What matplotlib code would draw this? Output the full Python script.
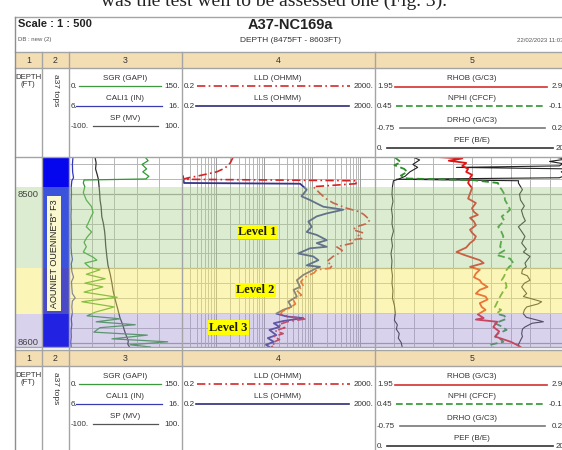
import matplotlib.pyplot as plt
from matplotlib.patches import Rectangle

# ==========================
# Log data (depth in FT)
# ==========================

W, H = 562, 450
TOP, BASE = 8475, 8603

sgr_depth = [8475, 8477.5, 8480, 8483, 8485, 8488, 8489.8, 8490.5, 8492.5, 8495, 8499, 8504,
             8508.5, 8512.5, 8515.5, 8519, 8522, 8525.5, 8529, 8532.5, 8535.5, 8539, 8542.5,
             8544.5, 8546.5, 8549.5, 8551, 8554, 8557, 8560, 8562.5, 8566, 8569.5, 8572.5, 8576,
             8579.5, 8582, 8584, 8586, 8588, 8590, 8593, 8595, 8597.5, 8599.5, 8601.5, 8603]
sgr = [101, 105, 97, 103, 98, 106, 102, 20, 19, 21, 19, 23, 30, 32, 29, 26, 23, 30, 24, 20, 23,
       19, 32, 37, 21, 28, 41, 23, 48, 21, 45, 20, 64, 17, 60, 35, 24, 68, 36, 88, 41, 33, 104,
       57, 131, 81, 108]

cali_depth = [8475, 8480, 8485, 8489, 8491, 8495, 8500, 8505, 8510, 8515, 8520, 8525, 8530, 8535,
              8540, 8544, 8547, 8552, 8556, 8559, 8563, 8567, 8570, 8572, 8576, 8580, 8584, 8588,
              8592, 8596, 8600, 8603]
cali = [6.35, 6.3, 6.32, 6.4, 6.25, 6.2, 6.22, 6.18, 6.2, 6.17, 6.2, 6.19, 6.2, 6.18, 6.22, 6.3,
        6.2, 6.25, 6.4, 6.22, 6.25, 6.3, 6.55, 6.3, 6.25, 6.3, 6.2, 6.25, 6.18, 6.2, 6.15, 6.2]

sp_depth = [8475, 8479, 8483, 8487, 8490, 8494, 8498, 8504, 8509, 8515, 8520, 8525, 8529, 8535,
            8542, 8548, 8554, 8560, 8565, 8570, 8577, 8583, 8588, 8593, 8596, 8599, 8601, 8603]
sp = [-54, -52, -53, -50, -48, -47, -46, -45, -43, -42, -39, -37, -36, -35, -33, -31, -27, -24,
      -22, -19, -14, -10, -5, -1, 2, 5, 4, 7]

lld_depth = [8475, 8479, 8482.5, 8485, 8486.5, 8488, 8489, 8490, 8491, 8493, 8495, 8499.5, 8503,
             8506, 8509.5, 8512, 8514, 8517.5, 8520, 8522, 8524, 8526, 8528, 8530, 8531, 8533,
             8535.5, 8538, 8540, 8542, 8545.5, 8548, 8550, 8551, 8553, 8556, 8559, 8562, 8565,
             8568, 8571, 8574, 8577, 8579, 8581, 8583, 8584, 8586, 8588, 8590, 8592, 8594, 8596,
             8598, 8600, 8602, 8603]
lld = [2.3, 2.0, 1.55, 1.05, 0.65, 0.4, 0.27, 0.21, 850, 800, 105, 145, 190, 273, 518, 977, 1200,
       1570, 1300, 830, 700, 1100, 900, 1060, 610, 700, 320, 420, 350, 270, 200, 260, 233, 124,
       110, 70, 58, 66, 48, 60, 40, 45, 33, 24, 22, 40, 75, 30, 20, 27, 17, 25, 16, 21, 15, 17, 14]

lls_depth = [8488, 8492.5, 8493, 8497, 8501.5, 8504, 8508.5, 8510.5, 8513, 8515, 8518.5, 8522,
             8525.5, 8527.5, 8531, 8533, 8535.5, 8536.5, 8540, 8542, 8544.5, 8548, 8549, 8551,
             8554.5, 8558, 8562.5, 8564.5, 8569, 8572.5, 8576, 8578, 8580.5, 8582.5, 8583.5,
             8585.5, 8587, 8589.5, 8591.5, 8595, 8597, 8599.5, 8601.5, 8603]
lls = [0.21, 0.22, 56, 77, 60, 90, 170, 440, 200, 124, 83, 97, 77, 124, 200, 124, 200, 90, 51,
       105, 134, 77, 145, 105, 65, 48, 56, 41, 48, 32, 37, 25, 18, 30, 65, 25, 16, 21, 13, 18, 12,
       16, 11, 13]

rhob_depth = [8475, 8476, 8477.5, 8479, 8481, 8483, 8485, 8487, 8489, 8492.5, 8496, 8499.5, 8503,
              8506, 8509.5, 8512, 8514, 8516, 8518.5, 8521, 8524, 8526, 8528.5, 8531, 8533, 8536,
              8539, 8541, 8544.5, 8546.5, 8549, 8551, 8553.5, 8556, 8558, 8560, 8562.5, 8564.5,
              8567, 8569, 8571, 8573.5, 8576, 8578, 8581, 8583.5, 8584.5, 8586, 8589.5, 8592.5,
              8596, 8599.5, 8601.5, 8603]
rhob = [2.27, 2.40, 2.33, 2.42, 2.40, 2.43, 2.42, 2.45, 2.44, 2.43, 2.45, 2.44, 2.43, 2.47, 2.45,
        2.46, 2.48, 2.44, 2.46, 2.47, 2.44, 2.45, 2.47, 2.46, 2.44, 2.42, 2.37, 2.41, 2.49, 2.51,
        2.44, 2.49, 2.47, 2.46, 2.49, 2.50, 2.53, 2.49, 2.47, 2.52, 2.53, 2.49, 2.50, 2.52, 2.48,
        2.51, 2.47, 2.58, 2.56, 2.59, 2.57, 2.65, 2.68, 2.70]

nphi_depth = [8475, 8478.5, 8480.5, 8483, 8485, 8487.5, 8489.5, 8490.5, 8492.5, 8495, 8497, 8500,
              8504, 8507, 8510.5, 8513, 8515, 8518, 8522, 8525, 8528.5, 8532, 8535.5, 8538, 8541,
              8543.5, 8546.5, 8549, 8551, 8555, 8558, 8560, 8562.5, 8566, 8569, 8572, 8576, 8578,
              8580.5, 8582, 8584, 8587, 8589, 8591.5, 8594, 8596, 8598, 8599.5, 8601.5, 8603]
nphi = [0.39, 0.37, 0.39, 0.36, 0.35, 0.37, 0.35, 0.15, 0.07, 0.065, 0.058, 0.05, 0.048, 0.04,
        0.032, 0.045, 0.058, 0.05, 0.069, 0.06, 0.053, 0.06, 0.063, 0.05, 0.074, 0.032, 0.022,
        0.035, 0.043, 0.05, 0.058, 0.045, 0.043, 0.055, 0.063, 0.07, 0.079, 0.06, 0.074, 0.05,
        0.043, 0.079, 0.06, 0.043, 0.07, 0.079, 0.06, 0.053, 0.094, 0.085]

drho_depth = [8475, 8476.5, 8478, 8479.5, 8481, 8482, 8483, 8485, 8487, 8489, 8490, 8491, 8492.5,
              8497, 8500, 8504, 8508, 8511, 8515, 8518, 8522, 8525, 8528.5, 8533, 8537, 8539,
              8542, 8546.5, 8549, 8551, 8553.5, 8555, 8558, 8560, 8562.5, 8567, 8569, 8571,
              8572.5, 8574, 8576, 8578, 8580.5, 8583, 8585, 8586, 8587, 8589.5, 8591, 8594, 8596,
              8598.5, 8601.5, 8603]
drho = [0.18, 0.23, 0.15, 0.22, 0.2, -0.33, 0.25, 0.21, 0.24, 0.2, -0.64, -0.01, -0.011, 0.01,
        -0.005, 0.0, 0.02, 0.005, 0.014, 0.025, -0.011, 0.005, 0.023, 0.006, 0.03, 0.015, 0.049,
        0.023, 0.03, 0.01, 0.006, 0.035, 0.049, 0.02, 0.006, 0.032, 0.015, 0.07, 0.109, 0.09,
        0.032, 0.02, 0.014, 0.03, 0.09, 0.118, 0.06, 0.023, 0.01, 0.006, 0.01, 0.0, -0.011, -0.005]

pef_depth = [8475, 8477, 8480, 8482, 8485, 8488, 8490, 8491, 8495, 8500, 8505, 8510, 8515, 8520,
             8525, 8530, 8535, 8540, 8545, 8550, 8555, 8560, 8565, 8570, 8575, 8580, 8585, 8588,
             8591, 8594, 8597, 8600, 8603]
pef = [3.9, 4.6, 3.9, 4.4, 3.6, 3.1, 2.4, 1.9, 1.8, 1.75, 1.85, 1.7, 1.8, 1.75, 1.9, 1.7, 1.8,
       1.65, 1.75, 1.7, 1.8, 1.75, 1.85, 1.8, 2.0, 2.1, 2.0, 2.3, 2.2, 2.5, 2.4, 2.7, 2.8]

# Reservoir levels
zone_top = [8495, 8550, 8581]
zone_base = [8550, 8581, 8603]
zone_color = ["#a8d08a", "#f8ec60", "#9f8fd0"]
zone_alpha = [0.4, 0.45, 0.4]
zone_label = ["Level 1", "Level 2", "Level 3"]
label_depth = [8525.5, 8564.5, 8590]
label_pos = [0.39, 0.38, 0.24]
tops_color = ["#0606ee", "#3a52dc", "#4a4ac6", "#2222e2"]

depth_labels = [8500, 8600]

# ==========================
# Layout (pixels)
# ==========================

TRACKS = {1: (15, 42), 2: (42, 69), 3: (69, 182), 4: (182, 375), 5: (375, 569)}
Y0, Y1 = 157, 347
GRID = "#b6b6b6"
FRAME = "#a4a4a4"
HFONT = "Liberation Sans"

fig = plt.figure(figsize=(W / 100, H / 100), dpi=100)


def px_axes(x0, x1, y0=Y0, y1=Y1, z=1):
    ax = fig.add_axes([x0 / W, 1 - y1 / H, (x1 - x0) / W, (y1 - y0) / H], zorder=z)
    ax.set_ylim(BASE, TOP)
    ax.axis("off")
    return ax


grid_depths = list(range(8480, 8601, 10))

# grids for tracks 3-5
for t, ndiv in [(3, 5), (4, None), (5, 10)]:
    g = px_axes(*TRACKS[t], z=1)
    for d in grid_depths:
        strong = d % 50 == 0
        g.axhline(d, color="#9c9c9c" if strong else GRID, lw=0.9 if strong else 0.7)
    if ndiv:
        g.set_xlim(0, ndiv)
        for k in range(1, ndiv):
            g.axvline(k, color=GRID, lw=0.7)
    else:
        g.set_xscale("log")
        g.set_xlim(0.2, 2000)
        for n in range(-1, 4):
            for k in range(1, 10):
                v = k * 10.0 ** n
                if 0.2 < v < 2000:
                    g.axvline(v, color="#9c9c9c" if k == 1 else GRID, lw=0.7)


def curve_axes(track, lo, hi, log=False):
    ax = px_axes(*TRACKS[track], z=2)
    if log:
        ax.set_xscale("log")
    ax.set_xlim(lo, hi)
    return ax


# Track 3
curve_axes(3, 6, 16).plot(cali, cali_depth, color="#3434c0", lw=0.9)
curve_axes(3, -100, 100).plot(sp, sp_depth, color="#2e2e2e", lw=0.9)
curve_axes(3, 0, 150).plot(sgr, sgr_depth, color="#2f9a2f", lw=0.9)

# Track 4
curve_axes(4, 0.2, 2000, log=True).plot(lls, lls_depth, color="#34348c", lw=1.3)
curve_axes(4, 0.2, 2000, log=True).plot(lld, lld_depth, color="#d62222", lw=1.2,
                                        ls=(0, (5, 2, 1, 2)))

# Track 5
curve_axes(5, 0, 20).plot(pef, pef_depth, color="#222222", lw=0.8)
curve_axes(5, -0.75, 0.25).plot(drho, drho_depth, color="#222222", lw=0.8)
curve_axes(5, 0.45, -0.15).plot(nphi, nphi_depth, color="#2a8f2a", lw=1.3, ls=(0, (4, 2)))
curve_axes(5, 1.95, 2.95).plot(rhob, rhob_depth, color="#e01414", lw=1.3)

# Zone shading over all tracks
bands = px_axes(15, 600, z=3)
for top, base, c, a in zip(zone_top, zone_base, zone_color, zone_alpha):
    bands.axhspan(top, base, color=c, alpha=a, lw=0)

# Tops column
tops = px_axes(*TRACKS[2], z=4)
tops.set_xlim(0, 1)
tops.axhspan(TOP, zone_top[0], color=tops_color[0], lw=0)
for top, base, c in zip(zone_top, zone_base, tops_color[1:]):
    tops.axhspan(top, base, color=c, lw=0)
tops.text(0.45, (TOP + BASE) / 2 + 1, 'AOUNIET OUENINE"B" F3', rotation=90, ha="center",
          va="center", fontsize=6.5, family=HFONT, color="#222",
          bbox=dict(boxstyle="square,pad=0.3", fc="#fbf8cf", ec="none"))

# Depth column
dep = px_axes(*TRACKS[1], z=4)
dep.set_xlim(0, 1)
for d in depth_labels:
    dep.text(0.08, d, str(d), ha="left", va="center", fontsize=6.8, family=HFONT, color="#444")

# Level labels
lev = px_axes(*TRACKS[4], z=6)
lev.set_xlim(0, 1)
for x, d, name in zip(label_pos, label_depth, zone_label):
    lev.text(x, d, name, ha="center", va="center", fontsize=9, family="Liberation Serif",
             weight="bold", color="#1a1a1a",
             bbox=dict(boxstyle="square,pad=0.1", fc="#ffff00", ec="none"))

# ==========================
# Frame and headers
# ==========================

fr = fig.add_axes([0, 0, 1, 1], zorder=8)
fr.set_xlim(0, W)
fr.set_ylim(H, 0)
fr.axis("off")

HEADER = [
    # label, left, right, track, line y, colour, style, x0, x1
    ("SGR (GAPI)", "0.", "150.", 3, 34, "#3c9a3c", "-", 79, 161),
    ("CALI1 (IN)", "6.", "16.", 3, 54, "#3a3ab0", "-", 76, 162),
    ("SP (MV)", "-100.", "100.", 3, 74, "#555555", "-", 93, 158),
    ("LLD (OHMM)", "0.2", "2000.", 4, 34, "#d42a2a", (0, (5, 2, 1, 2)), 197, 350),
    ("LLS (OHMM)", "0.2", "2000.", 4, 54, "#2c2c78", "-", 196, 349),
    ("RHOB (G/C3)", "1.95", "2.95", 5, 35, "#d43030", "-", 395, 547),
    ("NPHI (CFCF)", "0.45", "-0.15", 5, 54, "#2f962f", (0, (4, 2)), 396, 543),
    ("DRHO (G/C3)", "-0.75", "0.25", 5, 76, "#777777", "-", 400, 545),
    ("PEF (B/E)", "0.", "20.", 5, 96, "#333333", "-", 387, 553),
]
LABEL_X = {3: 125, 4: 278, 5: 472}


def draw_header(y0):
    fr.add_patch(Rectangle((15, y0), W - 15, 16, facecolor="#f3ddb3", edgecolor="none"))
    for num, (a, b) in TRACKS.items():
        fr.text((a + b) / 2, y0 + 8.5, str(num), ha="center", va="center", fontsize=6.3,
                family=HFONT, color="#333")
    fr.text(28, y0 + 29, "DEPTH\n(FT)", ha="center", va="center", fontsize=5.6, family=HFONT,
            color="#333", linespacing=0.95)
    fr.text(55, y0 + 22, "a37 tops", rotation=-90, ha="center", va="top", fontsize=6,
            family=HFONT, color="#333")
    for label, left, right, t, ly, c, ls, x0, x1 in HEADER:
        a, b = TRACKS[t]
        fr.plot([x0, x1], [y0 + ly, y0 + ly], color=c, ls=ls, lw=1.2 if t > 3 else 0.9)
        fr.text(LABEL_X[t], y0 + ly - 8, label, ha="center", va="center", fontsize=5.8,
                family=HFONT, color="#333")
        fr.text(a + 2, y0 + ly, left, ha="left", va="center", fontsize=5.8, family=HFONT,
                color="#333")
        # the right-hand scale values of track 5 run past the page edge
        fr.text(min(b - 2, 567), y0 + ly, right, ha="right", va="center", fontsize=5.8,
                family=HFONT, color="#333")


draw_header(52)
draw_header(350)

# frame lines
for y in [17, 52, 68, Y0, Y1, 350, 366]:
    fr.plot([15, W], [y, y], color=FRAME, lw=1.0)
fr.plot([15, 15], [17, H], color="#8e8e8e", lw=1.0)
for x in [42, 69, 182, 375]:
    fr.plot([x, x], [52, H], color=FRAME, lw=1.0)

# title block
fr.text(18, 24, "Scale : 1 : 500", ha="left", va="center", fontsize=8, weight="bold",
        family=HFONT, color="#222")
fr.text(18, 40, "DB : new (2)", ha="left", va="center", fontsize=4.3, family=HFONT, color="#555")
fr.text(290, 25, "A37-NC169a", ha="center", va="center", fontsize=10.5, weight="bold",
        family=HFONT, color="#222")
fr.text(290, 40, "DEPTH (8475FT - 8603FT)", ha="center", va="center", fontsize=6,
        family=HFONT, color="#333")
fr.text(517, 40, "22/02/2023 11:03", ha="left", va="center", fontsize=4.3, family=HFONT,
        color="#555")

# running text of the page above the log print
fr.text(447, 6, "was the test well to be assessed one (Fig. 3).", ha="right",
        va="baseline", fontsize=14, family="Liberation Serif", color="#222")

fig.savefig("out.png", dpi=100)
